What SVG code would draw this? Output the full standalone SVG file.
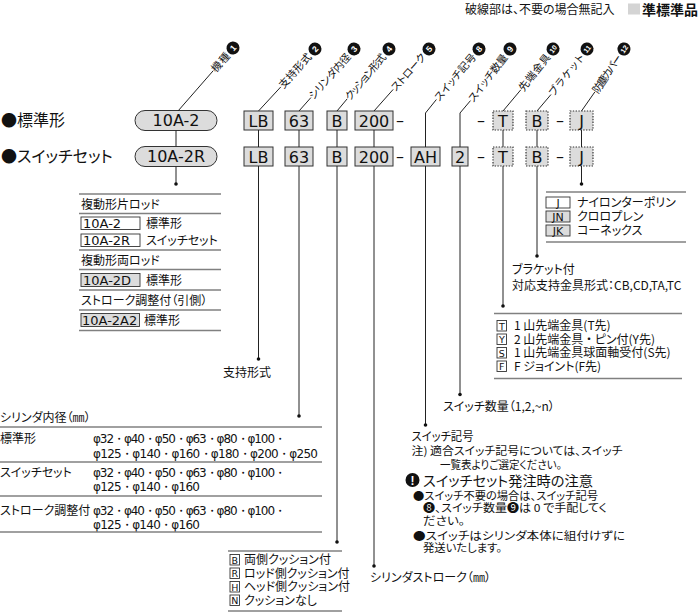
<svg xmlns="http://www.w3.org/2000/svg" width="700" height="616" viewBox="0 0 700 616">
<style>
.jp{font-family:"Noto Sans CJK JP","DejaVu Sans",sans-serif;font-feature-settings:"palt";fill:#111;}
.lat{font-family:"DejaVu Sans","Liberation Sans",sans-serif;fill:#111;}
.box{fill:#dcdcdc;stroke:#333;stroke-width:1;}
.dbox{fill:#dcdcdc;stroke:#333;stroke-width:1.2;stroke-dasharray:1.4 1.4;}
.wbox{fill:#fff;stroke:#333;stroke-width:0.9;}
.gbox{fill:#dcdcdc;stroke:#333;stroke-width:0.9;}
.ln{stroke:#222;stroke-width:1;fill:none;}
.rule{stroke:#808080;stroke-width:1.5;}
.num{font-family:"Liberation Sans",sans-serif;font-weight:bold;fill:#fff;text-anchor:middle;}
.bt{font-size:16px;text-anchor:middle;}
.lbl{font-size:10.5px;text-anchor:end;}
.t12{font-size:12px;}
.t11{font-size:11px;}
</style>

<g id="legend">
<text class="jp" x="465" y="14" font-size="12">破線部は、不要の場合無記入</text>
<rect x="628" y="3.5" width="12" height="11" fill="#d4d4d4"/>
<text class="jp" x="642" y="15" font-size="14" font-weight="bold">準標準品</text>
</g>

<g id="row-labels">
<text class="jp" x="1" y="126" font-size="16">●標準形</text>
<text class="jp" x="1" y="162" font-size="16">●スイッチセット</text>
</g>

<g id="row1">
<rect class="box" x="135" y="110.5" width="82" height="20" rx="10"/>
<text class="lat bt" x="176" y="126">10A-2</text>
<rect class="box" x="244" y="111" width="29" height="19"/><text class="lat bt" x="258.5" y="126.5">LB</text>
<rect class="box" x="285" y="111" width="28" height="19"/><text class="lat bt" x="299" y="126.5">63</text>
<rect class="box" x="327" y="111" width="20" height="19"/><text class="lat bt" x="337" y="126.5">B</text>
<rect class="box" x="355" y="111" width="38" height="19"/><text class="lat bt" x="374" y="126.5">200</text>
<text class="lat bt" x="400" y="126">–</text>
<text class="lat bt" x="481" y="126">–</text>
<rect class="dbox" x="493" y="111" width="20" height="19"/><text class="lat bt" x="503" y="126.5">T</text>
<rect class="dbox" x="526" y="111" width="22" height="19"/><text class="lat bt" x="537" y="126.5">B</text>
<text class="lat bt" x="560" y="126">–</text>
<rect class="dbox" x="570" y="111" width="23" height="19"/><text class="lat bt" x="581.5" y="126.5">J</text>
</g>

<g id="row2">
<rect class="box" x="135" y="146.5" width="82" height="20" rx="10"/>
<text class="lat bt" x="176" y="162">10A-2R</text>
<rect class="box" x="244" y="147" width="29" height="19"/><text class="lat bt" x="258.5" y="162.5">LB</text>
<rect class="box" x="285" y="147" width="28" height="19"/><text class="lat bt" x="299" y="162.5">63</text>
<rect class="box" x="327" y="147" width="20" height="19"/><text class="lat bt" x="337" y="162.5">B</text>
<rect class="box" x="355" y="147" width="38" height="19"/><text class="lat bt" x="374" y="162.5">200</text>
<text class="lat bt" x="400" y="162">–</text>
<rect class="box" x="411" y="147" width="29" height="19"/><text class="lat bt" x="425.5" y="162.5">AH</text>
<rect class="box" x="452" y="147" width="16" height="19"/><text class="lat bt" x="460" y="162.5">2</text>
<text class="lat bt" x="481" y="162">–</text>
<rect class="dbox" x="493" y="147" width="20" height="19"/><text class="lat bt" x="503" y="162.5">T</text>
<rect class="dbox" x="526" y="147" width="22" height="19"/><text class="lat bt" x="537" y="162.5">B</text>
<text class="lat bt" x="560" y="162">–</text>
<rect class="dbox" x="570" y="147" width="23" height="19"/><text class="lat bt" x="581.5" y="162.5">J</text>
</g>

<g id="top-labels">
<g transform="translate(233,48) rotate(-48.9)"><text class="jp lbl" x="-8" y="3.7" textLength="22">機種</text><circle r="6.5" fill="#111"/><text class="num" y="3" font-size="8.5">1</text></g>
<g transform="translate(315,49) rotate(-47.9)"><text class="jp lbl" x="-8" y="3.7" textLength="43">支持形式</text><circle r="6.5" fill="#111"/><text class="num" y="3" font-size="8.5">2</text></g>
<g transform="translate(354,49) rotate(-48.4)"><text class="jp lbl" x="-8" y="3.7" textLength="57">シリンダ内径</text><circle r="6.5" fill="#111"/><text class="num" y="3" font-size="8.5">3</text></g>
<g transform="translate(389,49) rotate(-50)"><text class="jp lbl" x="-8" y="3.7" textLength="57">クッション形式</text><circle r="6.5" fill="#111"/><text class="num" y="3" font-size="8.5">4</text></g>
<g transform="translate(429,49) rotate(-48.4)"><text class="jp lbl" x="-8" y="3.7" textLength="46">ストローク</text><circle r="6.5" fill="#111"/><text class="num" y="3" font-size="8.5">5</text></g>
<g transform="translate(479,49) rotate(-49.8)"><text class="jp lbl" x="-8" y="3.7" textLength="58">スイッチ記号</text><circle r="6.5" fill="#111"/><text class="num" y="3" font-size="8.5">8</text></g>
<g transform="translate(510,49) rotate(-52.6)"><text class="jp lbl" x="-8" y="3.7" textLength="57">スイッチ数量</text><circle r="6.5" fill="#111"/><text class="num" y="3" font-size="8.5">9</text></g>
<g transform="translate(553,49) rotate(-51.7)"><text class="jp lbl" x="-8" y="3.7" textLength="44">先端金具</text><circle r="6.5" fill="#111"/><text class="num" y="2.6" font-size="7">10</text></g>
<g transform="translate(587,49) rotate(-51.7)"><text class="jp lbl" x="-8" y="3.7" textLength="50">ブラケット</text><circle r="6.5" fill="#111"/><text class="num" y="2.6" font-size="7">11</text></g>
<g transform="translate(624,49) rotate(-55.9)"><text class="jp lbl" x="-8" y="3.7" textLength="44">防塵カバー</text><circle r="6.5" fill="#111"/><text class="num" y="2.6" font-size="7">12</text></g>
</g>

<g id="connectors">
<path class="ln" d="M178,111 L213.3,70.6 M258.5,111 L280.8,86.9 M299,111 L310.9,97.6 M337,111 L347.2,98.8 M374,111 L393.2,89.4 M425.5,147 V113 L436.4,99.5 M460,147 V113 L470.5,100.6 M503,111 L520.8,89.8 M537,111 L551,94.5 M581.5,111 L594.8,92"/>
<path class="ln" d="M176,130.5 V146.5 M258.5,130 V147 M299,130 V147 M337,130 V147 M374,130 V147 M503,130 V147 M537,130 V147 M581.5,130 V147"/>
<path class="ln" d="M176,166.5 V184 M258.5,166 V359 M299,166 V416 M337,166 V542 M374,166 V566 M425.5,166 V425 M460,166 V394.5 M503,166 V306 M537,166 V256 M581.5,166 V184"/>
<g fill="#111">
<circle cx="176" cy="184" r="1.8"/><circle cx="258.5" cy="359" r="1.8"/><circle cx="299" cy="416" r="1.8"/><circle cx="337" cy="542" r="1.8"/><circle cx="374" cy="566" r="1.8"/><circle cx="425.5" cy="425" r="1.8"/><circle cx="460" cy="394.5" r="1.8"/><circle cx="503" cy="306" r="1.8"/><circle cx="537" cy="256" r="1.8"/><circle cx="581.5" cy="184" r="1.8"/>
</g>
</g>

<g id="model-table">
<line class="rule" x1="79" y1="194" x2="221" y2="194"/>
<text class="jp t12" x="81" y="208.5">複動形片ロッド</text>
<line class="rule" x1="79" y1="213.5" x2="221" y2="213.5"/>
<rect class="wbox" x="81" y="217" width="59" height="12.5"/><text class="lat" x="83" y="228" font-size="13">10A-2</text><text class="jp t12" x="146" y="228">標準形</text>
<rect class="wbox" x="81" y="234" width="59" height="12.5"/><text class="lat" x="83" y="245" font-size="13">10A-2R</text><text class="jp t12" x="146" y="245">スイッチセット</text>
<line class="rule" x1="79" y1="250" x2="221" y2="250"/>
<text class="jp t12" x="81" y="264.5">複動形両ロッド</text>
<line class="rule" x1="79" y1="269.5" x2="221" y2="269.5"/>
<rect class="gbox" x="81" y="273.5" width="59" height="13"/><text class="lat" x="83" y="285" font-size="13">10A-2D</text><text class="jp t12" x="146" y="285">標準形</text>
<line class="rule" x1="79" y1="290" x2="221" y2="290"/>
<text class="jp t12" x="81" y="305">ストローク調整付（引側）</text>
<line class="rule" x1="79" y1="310" x2="221" y2="310"/>
<rect class="gbox" x="81" y="313.5" width="58.5" height="13"/><text class="lat" x="82" y="325" font-size="13">10A-2A2</text><text class="jp t12" x="144" y="325">標準形</text>
<line class="rule" x1="79" y1="330.5" x2="221" y2="330.5"/>
</g>

<g id="support-label">
<text class="jp t12" x="223" y="377">支持形式</text>
</g>

<g id="bore-table">
<text class="jp t12" x="0" y="421.5">シリンダ内径（㎜）</text>
<line class="rule" x1="0" y1="427" x2="322" y2="427"/>
<text class="jp t12" x="0" y="442.5">標準形</text>
<text class="lat" x="93" y="442.5" font-size="12" textLength="193">φ32・φ40・φ50・φ63・φ80・φ100・</text>
<text class="lat" x="93" y="457.5" font-size="12" textLength="225">φ125・φ140・φ160・φ180・φ200・φ250</text>
<line class="rule" x1="0" y1="462" x2="322" y2="462"/>
<text class="jp t12" x="0" y="476.5">スイッチセット</text>
<text class="lat" x="93" y="476.5" font-size="12" textLength="193">φ32・φ40・φ50・φ63・φ80・φ100・</text>
<text class="lat" x="93" y="491" font-size="12" textLength="107">φ125・φ140・φ160</text>
<line class="rule" x1="0" y1="496" x2="322" y2="496"/>
<text class="jp t12" x="0" y="515">ストローク調整付</text>
<text class="lat" x="93" y="515" font-size="12" textLength="193">φ32・φ40・φ50・φ63・φ80・φ100・</text>
<text class="lat" x="93" y="528.5" font-size="12" textLength="107">φ125・φ140・φ160</text>
<line class="rule" x1="0" y1="532" x2="322" y2="532"/>
</g>

<g id="cushion-table">
<line class="rule" x1="228" y1="551" x2="342" y2="551"/>
<rect class="wbox" x="230" y="554.5" width="9.5" height="10.5"/><text class="lat" x="234.8" y="563.5" font-size="9.5" text-anchor="middle">B</text><text class="jp t12" x="244" y="564">両側クッション付</text>
<rect class="wbox" x="230" y="568" width="9.5" height="10.5"/><text class="lat" x="234.8" y="577" font-size="9.5" text-anchor="middle">R</text><text class="jp t12" x="244" y="577.5">ロッド側クッション付</text>
<rect class="wbox" x="230" y="581.5" width="9.5" height="10.5"/><text class="lat" x="234.8" y="590.5" font-size="9.5" text-anchor="middle">H</text><text class="jp t12" x="244" y="591">ヘッド側クッション付</text>
<rect class="wbox" x="230" y="595" width="9.5" height="10.5"/><text class="lat" x="234.8" y="604" font-size="9.5" text-anchor="middle">N</text><text class="jp t12" x="244" y="604.5">クッションなし</text>
<line class="rule" x1="228" y1="611" x2="342" y2="611"/>
</g>

<g id="stroke-label">
<text class="jp t12" x="370" y="582">シリンダストローク（㎜）</text>
</g>

<g id="cover-table">
<line class="rule" x1="546" y1="192" x2="686" y2="192"/>
<rect class="wbox" x="546" y="197" width="24" height="11"/><text class="lat" x="558" y="206.5" font-size="11" text-anchor="middle">J</text><text class="jp t12" x="577" y="207">ナイロンターポリン</text>
<rect class="gbox" x="546" y="211" width="24" height="11"/><text class="lat" x="558" y="220.5" font-size="11" text-anchor="middle">JN</text><text class="jp t12" x="577" y="221">クロロプレン</text>
<rect class="gbox" x="546" y="225" width="24" height="11"/><text class="lat" x="558" y="234.5" font-size="11" text-anchor="middle">JK</text><text class="jp t12" x="577" y="235">コーネックス</text>
<line class="rule" x1="546" y1="242" x2="686" y2="242"/>
</g>

<g id="bracket-label">
<text class="jp t12" x="512" y="273.5">ブラケット付</text>
<text class="jp t12" x="512" y="289.5">対応支持金具形式：CB,CD,TA,TC</text>
</g>

<g id="rod-end-table">
<line class="rule" x1="494" y1="313.5" x2="682" y2="313.5"/>
<rect class="wbox" x="497" y="320.5" width="9.5" height="10.5"/><text class="lat" x="501.8" y="329.5" font-size="9.5" text-anchor="middle">T</text><text class="jp t12" x="514" y="330">1 山先端金具(T先)</text>
<rect class="wbox" x="497" y="334" width="9.5" height="10.5"/><text class="lat" x="501.8" y="343" font-size="9.5" text-anchor="middle">Y</text><text class="jp t12" x="514" y="343.5">2 山先端金具 ・ ピン付(Y先)</text>
<rect class="wbox" x="497" y="347.5" width="9.5" height="10.5"/><text class="lat" x="501.8" y="356.5" font-size="9.5" text-anchor="middle">S</text><text class="jp t12" x="514" y="357">1 山先端金具球面軸受付(S先)</text>
<rect class="wbox" x="497" y="361" width="9.5" height="10.5"/><text class="lat" x="501.8" y="370" font-size="9.5" text-anchor="middle">F</text><text class="jp t12" x="514" y="370.5">F ジョイント(F先)</text>
<line class="rule" x1="494" y1="378.5" x2="682" y2="378.5"/>
</g>

<g id="switch-qty-label">
<text class="jp t12" x="443" y="411">スイッチ数量（1,2,~n）</text>
</g>

<g id="switch-notes">
<text class="jp t12" x="411.5" y="441" textLength="62" lengthAdjust="spacingAndGlyphs">スイッチ記号</text>
<text class="jp t11" x="411.5" y="455" textLength="211" lengthAdjust="spacingAndGlyphs">注) 適合スイッチ記号については、スイッチ</text>
<text class="jp t11" x="440" y="468.5" textLength="122" lengthAdjust="spacingAndGlyphs">一覧表よりご選定ください。</text>
<circle cx="412.5" cy="480" r="7" fill="#111"/>
<text class="num" x="412.5" y="485" font-size="12">!</text>
<text class="jp" x="423" y="485.5" font-size="14" textLength="170" lengthAdjust="spacingAndGlyphs">スイッチセット発注時の注意</text>
<text class="jp t11" x="413" y="499.5" textLength="185" lengthAdjust="spacingAndGlyphs">●スイッチ不要の場合は、スイッチ記号</text>
<text class="jp t11" x="423" y="512" textLength="184" lengthAdjust="spacingAndGlyphs">❽、スイッチ数量❾は 0 で手配してく</text>
<text class="jp t11" x="423" y="524.5" textLength="42" lengthAdjust="spacingAndGlyphs">ださい。</text>
<text class="jp t11" x="413" y="539.5" textLength="212" lengthAdjust="spacingAndGlyphs">●スイッチはシリンダ本体に組付けずに</text>
<text class="jp t11" x="423" y="552" textLength="79" lengthAdjust="spacingAndGlyphs">発送いたします。</text>
</g>
</svg>
